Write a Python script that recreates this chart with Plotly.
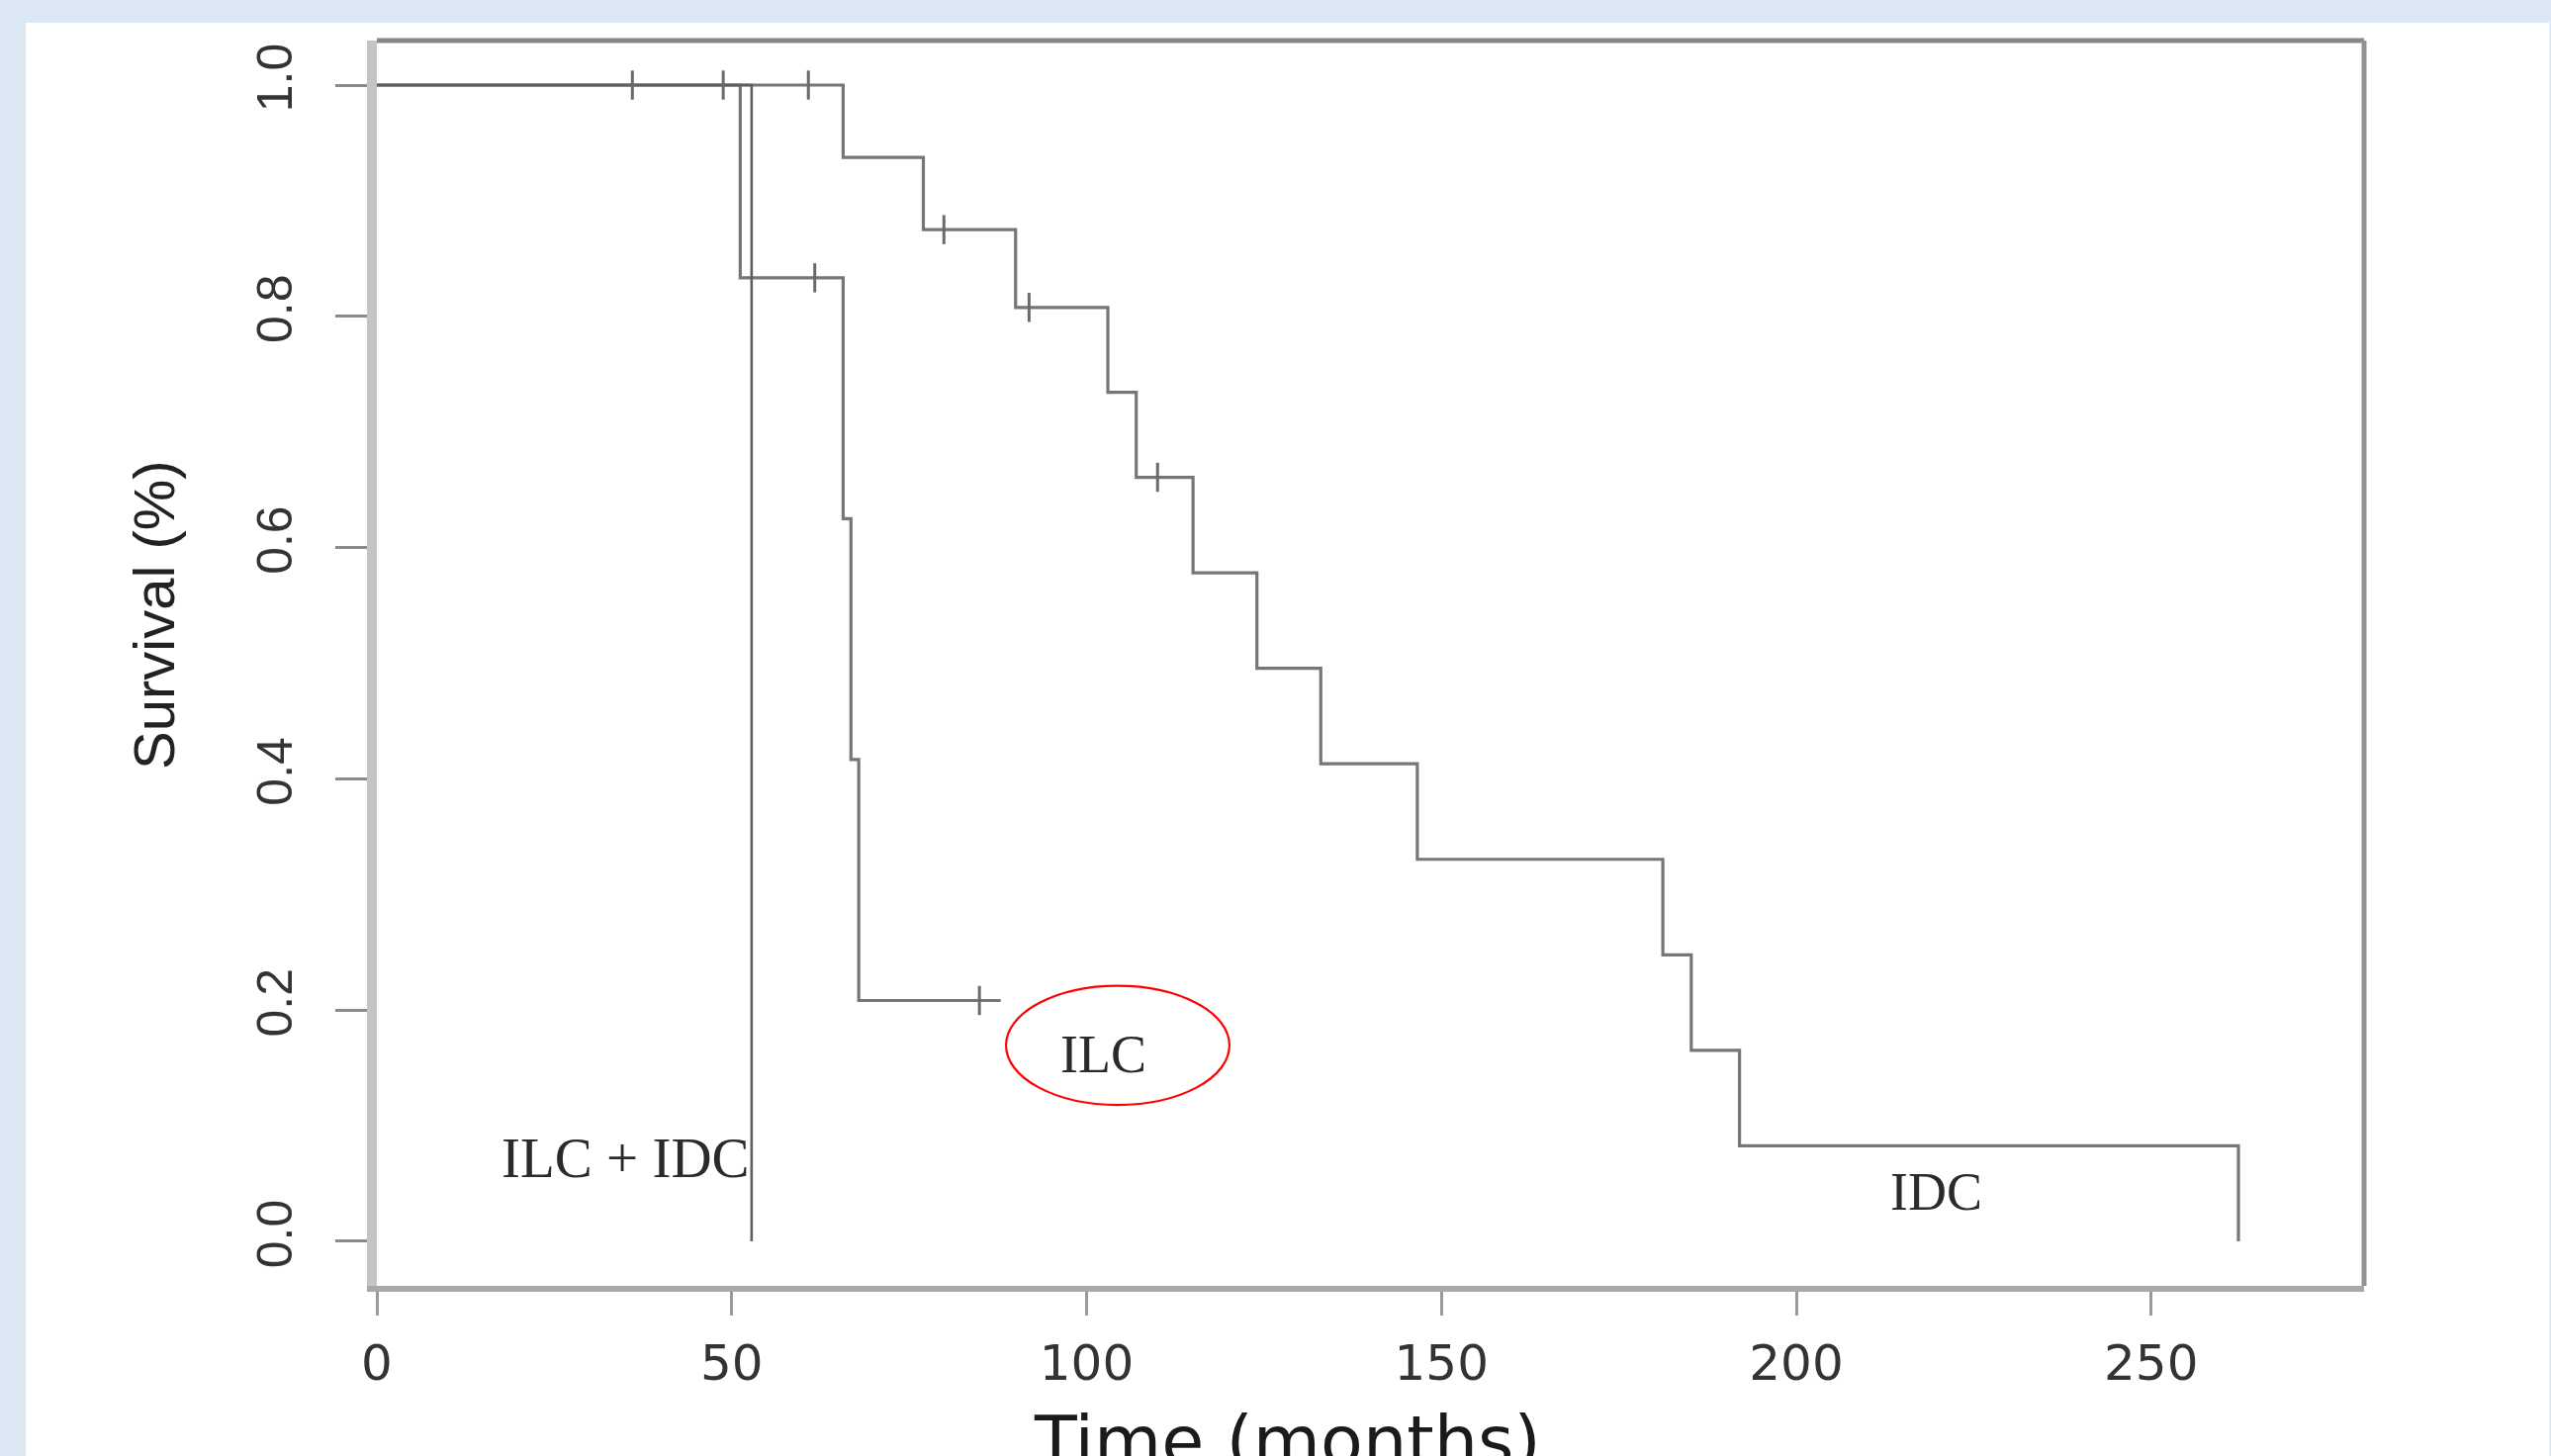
import plotly.graph_objects as go

# ---------------- data ----------------
idc_time = [0, 65.7, 77, 90, 103, 107, 115, 124, 133, 146.6, 181.2, 185.2, 192, 262.3]
idc_surv = [1.0, 0.9375, 0.875, 0.8077, 0.7343, 0.6608, 0.5782, 0.4956, 0.4130, 0.3304, 0.2478, 0.1652, 0.0826, 0.0]
idc_cens_time = [36, 48.8, 60.8, 79.9, 91.9, 110]
idc_cens_surv = [1.0, 1.0, 1.0, 0.875, 0.8077, 0.6608]

ilc_time = [0, 51.2, 65.7, 66.8, 67.9, 87.9]
ilc_surv = [1.0, 0.8333, 0.625, 0.4167, 0.2083, 0.2083]
ilc_cens_time = [61.7, 84.9]
ilc_cens_surv = [0.8333, 0.2083]

mix_time = [0, 52.8]
mix_surv = [1.0, 0.0]

x_ticks = [0, 50, 100, 150, 200, 250]
y_ticks = [0.0, 0.2, 0.4, 0.6, 0.8, 1.0]
y_tick_text = ["0.0", "0.2", "0.4", "0.6", "0.8", "1.0"]

labels = ["ILC + IDC", "ILC", "IDC"]
label_x = [35.0, 102.3, 219.7]
label_y = [0.072, 0.162, 0.043]
label_size = [57, 54, 54]

# ---------------- figure ----------------
W, H = 2579, 1472
ML, MR, MT, MB = 381, 189, 41, 172
PW = W - ML - MR
PH = H - MT - MB

line_col = "#767676"
fig = go.Figure()

fig.add_trace(go.Scatter(x=idc_time, y=idc_surv, mode="lines", line_shape="hv",
                         line=dict(color=line_col, width=3.2), showlegend=False, hoverinfo="skip"))
fig.add_trace(go.Scatter(x=ilc_time, y=ilc_surv, mode="lines", line_shape="hv",
                         line=dict(color=line_col, width=3.2), showlegend=False, hoverinfo="skip"))
fig.add_trace(go.Scatter(x=mix_time, y=mix_surv, mode="lines", line_shape="hv",
                         line=dict(color="#5e5e5e", width=2.6), showlegend=False, hoverinfo="skip"))
fig.add_trace(go.Scatter(x=idc_cens_time + ilc_cens_time, y=idc_cens_surv + ilc_cens_surv,
                         mode="markers",
                         marker=dict(symbol="line-ns-open", size=21, color="#6a6a6a",
                                     line=dict(color="#6a6a6a", width=3)),
                         showlegend=False, hoverinfo="skip"))

for t, xv, yv, fs in zip(labels, label_x, label_y, label_size):
    fig.add_annotation(x=xv, y=yv, xref="x", yref="y", text=t, showarrow=False,
                       font=dict(family="Liberation Serif", size=fs, color="#2a2a2a"),
                       xanchor="center", yanchor="middle")

# axis titles
fig.add_annotation(x=(155 - ML) / PW, y=1 - (622 - MT) / PH, xref="paper", yref="paper",
                   text="Survival (%)", textangle=-90, showarrow=False,
                   font=dict(family="Liberation Sans", size=58, color="#222222"),
                   xanchor="center", yanchor="middle")
fig.add_annotation(x=(1301 - ML) / PW, y=-(1414 - (MT + PH)) / PH, xref="paper", yref="paper",
                   text="Time (months)", showarrow=False,
                   font=dict(family="DejaVu Sans", size=70, color="#1a1a1a"),
                   xanchor="center", yanchor="top")

shapes = [
    # white panel over light-blue page
    dict(type="rect", xref="paper", yref="paper", layer="below",
         x0=(26 - ML) / PW, x1=(2577.5 - ML) / PW, y0=-0.3, y1=1 + (MT - 23) / PH,
         fillcolor="white", line=dict(width=0)),
    # top and right frame lines
    dict(type="line", xref="paper", yref="paper", x0=0, x1=1, y0=1, y1=1,
         line=dict(color="#888888", width=5)),
    dict(type="line", xref="paper", yref="paper", x0=1, x1=1, y0=0, y1=1,
         line=dict(color="#939393", width=5)),
    # red ellipse around ILC label
    dict(type="circle", xref="x", yref="y", x0=88.65, x1=120.13, y0=0.118, y1=0.2211,
         line=dict(color="#ff0000", width=2.2)),
]

fig.update_layout(
    width=W, height=H,
    margin=dict(l=ML, r=MR, t=MT, b=MB, pad=0),
    paper_bgcolor="#dbe8f3",
    plot_bgcolor="white",
    shapes=shapes,
    showlegend=False,
    xaxis=dict(range=[0, 280], tickvals=x_ticks, showgrid=False, zeroline=False,
               showline=True, linecolor="#a8a8a8", linewidth=6,
               ticks="outside", ticklen=24, tickwidth=3, tickcolor="#9a9a9a",
               ticklabelstandoff=5,
               tickfont=dict(family="DejaVu Sans", size=50, color="#333333")),
    yaxis=dict(range=[-0.0385, 1.0385], tickvals=y_ticks, ticktext=y_tick_text,
               tickangle=-90, showgrid=False, zeroline=False,
               showline=True, linecolor="#c4c4c4", linewidth=10,
               ticks="outside", ticklen=32, tickwidth=3, tickcolor="#8a8a8a",
               ticklabelstandoff=24,
               tickfont=dict(family="Liberation Sans", size=50, color="#333333")),
)

fig.write_html("out.html", config={"displayModeBar": False},
               post_script="document.body.style.margin='0';document.body.style.overflow='hidden';")
